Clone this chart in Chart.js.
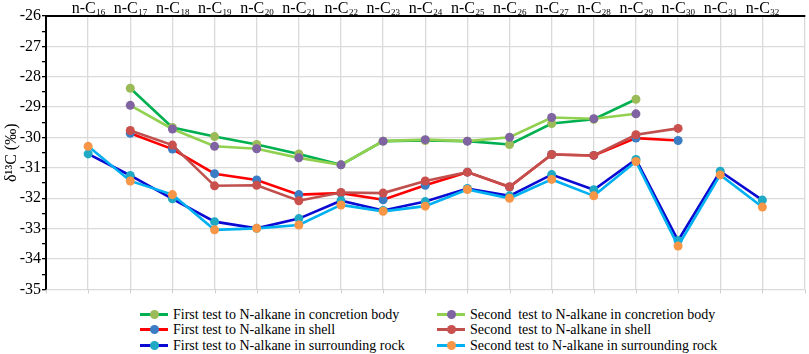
<!DOCTYPE html>
<html>
<head>
<meta charset="utf-8">
<script src="https://cdn.jsdelivr.net/npm/chart.js@4"></script>
<style>
    body {
        margin: 0;
        background: #fff;
        font-family: "Liberation Serif", "Times New Roman", Times, "DejaVu Serif", serif;
    }
    #wrap {
        position: relative;
        width: 809px;
        height: 354px;
    }
    #chart {
        position: absolute;
        left: 0;
        top: 0;
    }
    .legend-item {
        position: absolute;
        height: 15px;
        font-size: 14px;
        line-height: 15px;
        color: #000;
        white-space: pre;
    }
    .legend-swatch {
        position: absolute;
        left: 0;
        top: 6px;
        width: 28px;
        height: 3px;
    }
    .legend-dot {
        position: absolute;
        left: 9.5px;
        top: 3px;
        width: 9px;
        height: 9px;
        border-radius: 50%;
    }
    .legend-text {
        position: absolute;
        left: 33px;
        top: 0;
    }
</style>
</head>
<body>
<div id="wrap">
    <canvas id="chart" width="809" height="300"></canvas>
    <div id="legend"></div>
</div>
<script>
const serif = '"Liberation Serif", "Times New Roman", Times, serif';

// carbon number categories, n-C16 .. n-C32
const categories = ['n-C16', 'n-C17', 'n-C18', 'n-C19', 'n-C20', 'n-C21', 'n-C22', 'n-C23', 'n-C24',
    'n-C25', 'n-C26', 'n-C27', 'n-C28', 'n-C29', 'n-C30', 'n-C31', 'n-C32'];

// δ13C values (‰), one per category, null where not measured
const firstConcretion = [null, -28.38, -29.67, -29.97, -30.23, -30.54, -30.90, -30.12, -30.10, -30.12, -30.23, -29.54, -29.40, -28.74, null, null, null];
const secondConcretion = [null, -28.94, -29.72, -30.29, -30.37, -30.67, -30.90, -30.12, -30.07, -30.12, -29.99, -29.34, -29.38, -29.22, null, null, null];
const firstShell = [null, -29.86, -30.38, -31.19, -31.40, -31.88, -31.83, -32.05, -31.57, -31.14, -31.63, -30.56, -30.59, -30.02, -30.10, null, null];
const secondShell = [null, -29.77, -30.25, -31.59, -31.57, -32.08, -31.81, -31.83, -31.43, -31.14, -31.62, -30.56, -30.59, -29.91, -29.70, null, null];
const firstRock = [-30.54, -31.25, -32.02, -32.77, -32.99, -32.67, -32.08, -32.40, -32.11, -31.68, -31.92, -31.22, -31.72, -30.72, -33.39, -31.11, -32.06];
const secondRock = [-30.29, -31.43, -31.88, -33.04, -32.99, -32.88, -32.22, -32.43, -32.26, -31.71, -32.00, -31.38, -31.92, -30.79, -33.57, -31.23, -32.29];

// y axis range
const yMin = -35;
const yMax = -26;

const series = [
    { label: 'First test to N-alkane in concretion body', data: firstConcretion, line: '#00b050', point: '#9bbb59' },
    { label: 'Second  test to N-alkane in concretion body', data: secondConcretion, line: '#92d050', point: '#8064a2' },
    { label: 'First test to N-alkane in shell', data: firstShell, line: '#ff0000', point: '#3b7dc4' },
    { label: 'Second  test to N-alkane in shell', data: secondShell, line: '#c0504d', point: '#c9504d' },
    { label: 'First test to N-alkane in surrounding rock', data: firstRock, line: '#0a0ad2', point: '#1fa9c4' },
    { label: 'Second test to N-alkane in surrounding rock', data: secondRock, line: '#00b0f0', point: '#f79646' }
];

const datasets = series.map((s, i) => ({
    label: s.label,
    data: s.data.map((v, k) => ({ x: k, y: v })),
    borderColor: s.line,
    backgroundColor: s.point,
    pointBackgroundColor: s.point,
    pointBorderColor: s.point,
    pointBorderWidth: 0,
    pointRadius: 4.5,
    borderWidth: 2.6,
    tension: 0,
    spanGaps: false,
    order: series.length - i
}));

// n-C labels with subscript carbon number, drawn above the plot
const carbonLabels = {
    id: 'carbonLabels',
    afterDraw(chart) {
        const ctx = chart.ctx;
        const xs = chart.scales.x;
        const area = chart.chartArea;
        ctx.save();
        ctx.fillStyle = '#000';
        ctx.textBaseline = 'alphabetic';
        categories.forEach((name, i) => {
            const base = name.slice(0, 3);
            const sub = name.slice(3);
            const x = xs.getPixelForValue(i);
            ctx.font = '16px ' + serif;
            const w1 = ctx.measureText(base).width;
            ctx.font = '9px ' + serif;
            const w2 = ctx.measureText(sub).width;
            const start = x - (w1 + w2) / 2;
            ctx.font = '16px ' + serif;
            ctx.fillText(base, start, 12.5);
            ctx.font = '9px ' + serif;
            ctx.fillText(sub, start + w1 + 0.5, 15);
        });
        // small tick marks under the bottom line
        ctx.strokeStyle = '#cfcfcf';
        ctx.lineWidth = 1;
        for (let i = -1; i <= categories.length; i++) {
            const x = Math.round(xs.getPixelForValue(i)) + 0.5;
            ctx.beginPath();
            ctx.moveTo(x, area.bottom);
            ctx.lineTo(x, area.bottom + 4);
            ctx.stroke();
        }
        ctx.restore();
    }
};

new Chart(document.getElementById('chart'), {
    type: 'line',
    data: { datasets: datasets },
    options: {
        responsive: false,
        animation: false,
        devicePixelRatio: 1,
        layout: { padding: { left: 0, right: 2, top: 0, bottom: 4 } },
        plugins: {
            legend: { display: false },
            tooltip: { enabled: false }
        },
        scales: {
            x: {
                type: 'linear',
                position: 'top',
                min: -1,
                max: categories.length,
                afterFit: scale => { scale.height = 16; },
                ticks: { display: false, stepSize: 1 },
                grid: { color: '#dadada', lineWidth: 1.3, drawTicks: false },
                border: { display: true, color: '#000', width: 2 }
            },
            y: {
                min: yMin,
                max: yMax,
                afterFit: scale => { scale.width = 46; },
                ticks: {
                    stepSize: 0.5,
                    autoSkip: false,
                    padding: 1,
                    color: '#000',
                    font: { family: serif, size: 16 },
                    callback: v => Number.isInteger(v) ? String(v) : ''
                },
                grid: {
                    color: c => (c.tick && Number.isInteger(c.tick.value)) ? '#dadada' : 'rgba(0,0,0,0)',
                    lineWidth: 1.3,
                    tickColor: '#000',
                    tickLength: 4,
                    tickWidth: 1.3
                },
                border: { display: true, color: '#000', width: 2 },
                title: {
                    display: true,
                    text: 'δ¹³C (‰)',
                    color: '#000',
                    padding: { top: 2, bottom: 0 },
                    font: { family: serif, size: 16 }
                }
            }
        }
    },
    plugins: [carbonLabels]
});

// two-column legend below the plot
const legendPos = [
    [140, 306.5], [437, 306.5],
    [140, 322], [437, 322],
    [140, 337.5], [437, 337.5]
];
const legend = document.getElementById('legend');
series.forEach((s, i) => {
    const item = document.createElement('div');
    item.className = 'legend-item';
    item.style.left = legendPos[i][0] + 'px';
    item.style.top = legendPos[i][1] + 'px';
    item.innerHTML = '<span class="legend-swatch" style="background:' + s.line + '"></span>' +
        '<span class="legend-dot" style="background:' + s.point + '"></span>' +
        '<span class="legend-text"></span>';
    item.querySelector('.legend-text').textContent = s.label;
    legend.appendChild(item);
});
</script>
</body>
</html>
